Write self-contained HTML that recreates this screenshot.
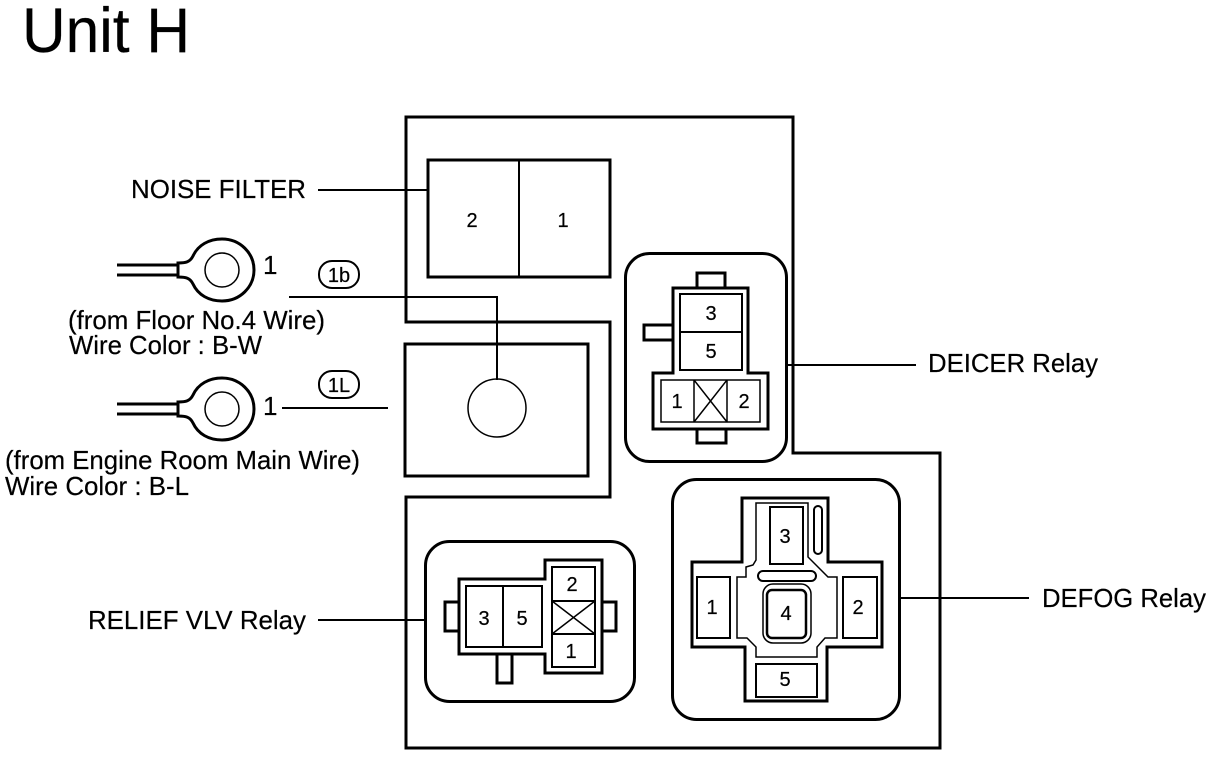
<!DOCTYPE html>
<html><head><meta charset="utf-8"><style>
html,body{margin:0;padding:0;background:#fff}
svg{display:block}
text{font-family:"Liberation Sans",sans-serif;fill:#000;stroke:#000;stroke-width:.2}
.l{font-size:26px}
.n{font-size:20px;text-anchor:middle}
.s{font-size:20px;text-anchor:middle}
</style></head><body>
<svg width="1216" height="760" viewBox="0 0 1216 760" xmlns="http://www.w3.org/2000/svg">
<rect width="1216" height="760" fill="#fff"/>
<text x="22" y="52" font-size="63" textLength="168" lengthAdjust="spacingAndGlyphs">Unit H</text>

<g fill="none" stroke="#000" stroke-width="3">
<path d="M406 117H793V453H940V748H406V497H610V322H406Z"/>
<path d="M428 160H610V277H428Z"/>
<path d="M405 344H588V476H405Z"/>
</g>
<g fill="none" stroke="#000" stroke-width="2">
<path d="M519 160V277"/>
<circle cx="497" cy="408" r="29" stroke-width="1.5"/>
<path d="M289 297H497V380"/>
<path d="M318 190H428"/>
<path d="M282 408H388"/>
<path d="M787 365H916"/>
<path d="M900 598H1029"/>
<path d="M318 620H426"/>
</g>
<text class="s" x="472" y="227">2</text>
<text class="s" x="563" y="227">1</text>

<!-- Labels -->
<text class="l" x="131" y="198" textLength="175" lengthAdjust="spacingAndGlyphs">NOISE FILTER</text>
<text class="l" x="928" y="372" textLength="170" lengthAdjust="spacingAndGlyphs">DEICER Relay</text>
<text class="l" x="1042" y="607" textLength="164" lengthAdjust="spacingAndGlyphs">DEFOG Relay</text>
<text class="l" x="88" y="629" textLength="218" lengthAdjust="spacingAndGlyphs">RELIEF VLV Relay</text>
<text class="l" x="68" y="329" textLength="257" lengthAdjust="spacingAndGlyphs">(from Floor No.4 Wire)</text>
<text class="l" x="69" y="354" textLength="193" lengthAdjust="spacingAndGlyphs">Wire Color : B-W</text>
<text class="l" x="5" y="469" textLength="355" lengthAdjust="spacingAndGlyphs">(from Engine Room Main Wire)</text>
<text class="l" x="5" y="495" textLength="184" lengthAdjust="spacingAndGlyphs">Wire Color : B-L</text>
<text class="l" x="263" y="274">1</text>
<text class="l" x="263" y="415">1</text>

<!-- Callouts -->
<g fill="none" stroke="#000" stroke-width="2">
<rect x="319" y="261" width="40" height="27" rx="13"/>
<rect x="319" y="371" width="40" height="27" rx="13"/>
</g>
<text x="339" y="282" font-size="20" text-anchor="middle">1b</text>
<text x="339" y="392" font-size="20" text-anchor="middle">1L</text>

<!-- Ring terminals -->
<g fill="none" stroke="#000">
<g id="t1">
<path d="M117 265H178M117 275H178" stroke-width="3"/>
<path d="M178 263C186 263 190 262 193 256C198 245 209 239 222 239C240 239 254 253 254 270C254 287 240 301 222 301C209 301 198 295 193 284C190 278 186 277 178 277Z" stroke-width="3"/>
<circle cx="222" cy="270" r="17" stroke-width="1.5"/>
</g>
<g transform="translate(0,139)">
<path d="M117 265H178M117 275H178" stroke-width="3"/>
<path d="M178 263C186 263 190 262 193 256C198 245 209 239 222 239C240 239 254 253 254 270C254 287 240 301 222 301C209 301 198 295 193 284C190 278 186 277 178 277Z" stroke-width="3"/>
<circle cx="222" cy="270" r="17" stroke-width="1.5"/>
</g>
</g>

<!-- DEICER relay -->
<g fill="none" stroke="#000">
<rect x="625.5" y="253.5" width="161" height="208" rx="24" stroke-width="3"/>
<path d="M697 288V273H725V288M673 325H644V340H673M697 429V443H726V429" stroke-width="3"/>
<path d="M673 288H748V373H768V429H653V373H673Z" stroke-width="3" fill="#fff"/>
<rect x="680" y="294" width="62" height="76" stroke-width="2"/>
<path d="M680 332H742" stroke-width="2"/>
<rect x="661" y="380" width="99" height="42" stroke-width="1.5"/>
<path d="M694 380V422M727 380V422M694 380L727 422M727 380L694 422" stroke-width="1.5"/>
</g>
<text class="n" x="711" y="320">3</text>
<text class="n" x="711" y="358">5</text>
<text class="n" x="677" y="408">1</text>
<text class="n" x="744" y="408">2</text>

<!-- RELIEF relay -->
<g fill="none" stroke="#000">
<rect x="425.5" y="541.5" width="209" height="160" rx="24" stroke-width="3"/>
<path d="M459 602H445V631H459M602 602H616V631H602M497 654V683H512V654" stroke-width="3"/>
<path d="M459 579H545V560H602V673H545V654H459Z" stroke-width="3" fill="#fff"/>
<rect x="466" y="586" width="76" height="61" stroke-width="2"/>
<path d="M503 586V647" stroke-width="2"/>
<rect x="552" y="567" width="43" height="100" stroke-width="2"/>
<path d="M552 601H595M552 634H595" stroke-width="2"/>
<path d="M552 601L595 634M595 601L552 634" stroke-width="1.5"/>
</g>
<text class="n" x="484" y="625">3</text>
<text class="n" x="522" y="625">5</text>
<text class="n" x="572" y="591">2</text>
<text class="n" x="571" y="658">1</text>

<!-- DEFOG relay -->
<g fill="none" stroke="#000">
<rect x="672.5" y="479.5" width="227" height="240" rx="24" stroke-width="3"/>
<path d="M742 498H828V562H882V647H827V701H745V647H692V562H742Z" stroke-width="3"/>
<path d="M756 503H808V557L828 577H837V638H825L817 647V657H756V647L747 638H737V577H746V567L753 565L756 560Z" stroke-width="1.5"/>
<g stroke-width="2">
<rect x="697" y="577" width="33" height="61"/>
<rect x="843" y="577" width="34" height="61"/>
<rect x="770" y="507" width="33" height="57"/>
<rect x="756" y="664" width="61" height="33"/>
<rect x="758" y="571" width="58" height="10" rx="5"/>
<rect x="814" y="506" width="8" height="48" rx="4"/>
<rect x="763" y="584" width="48" height="59" rx="10" stroke-width="1.5"/>
<rect x="767" y="590" width="39" height="48" rx="5" stroke-width="2.5"/>
</g>
</g>
<text class="n" x="785" y="543">3</text>
<text class="n" x="712" y="614">1</text>
<text class="n" x="858" y="614">2</text>
<text class="n" x="786" y="620">4</text>
<text class="n" x="785" y="686">5</text>
</svg>
</body></html>
